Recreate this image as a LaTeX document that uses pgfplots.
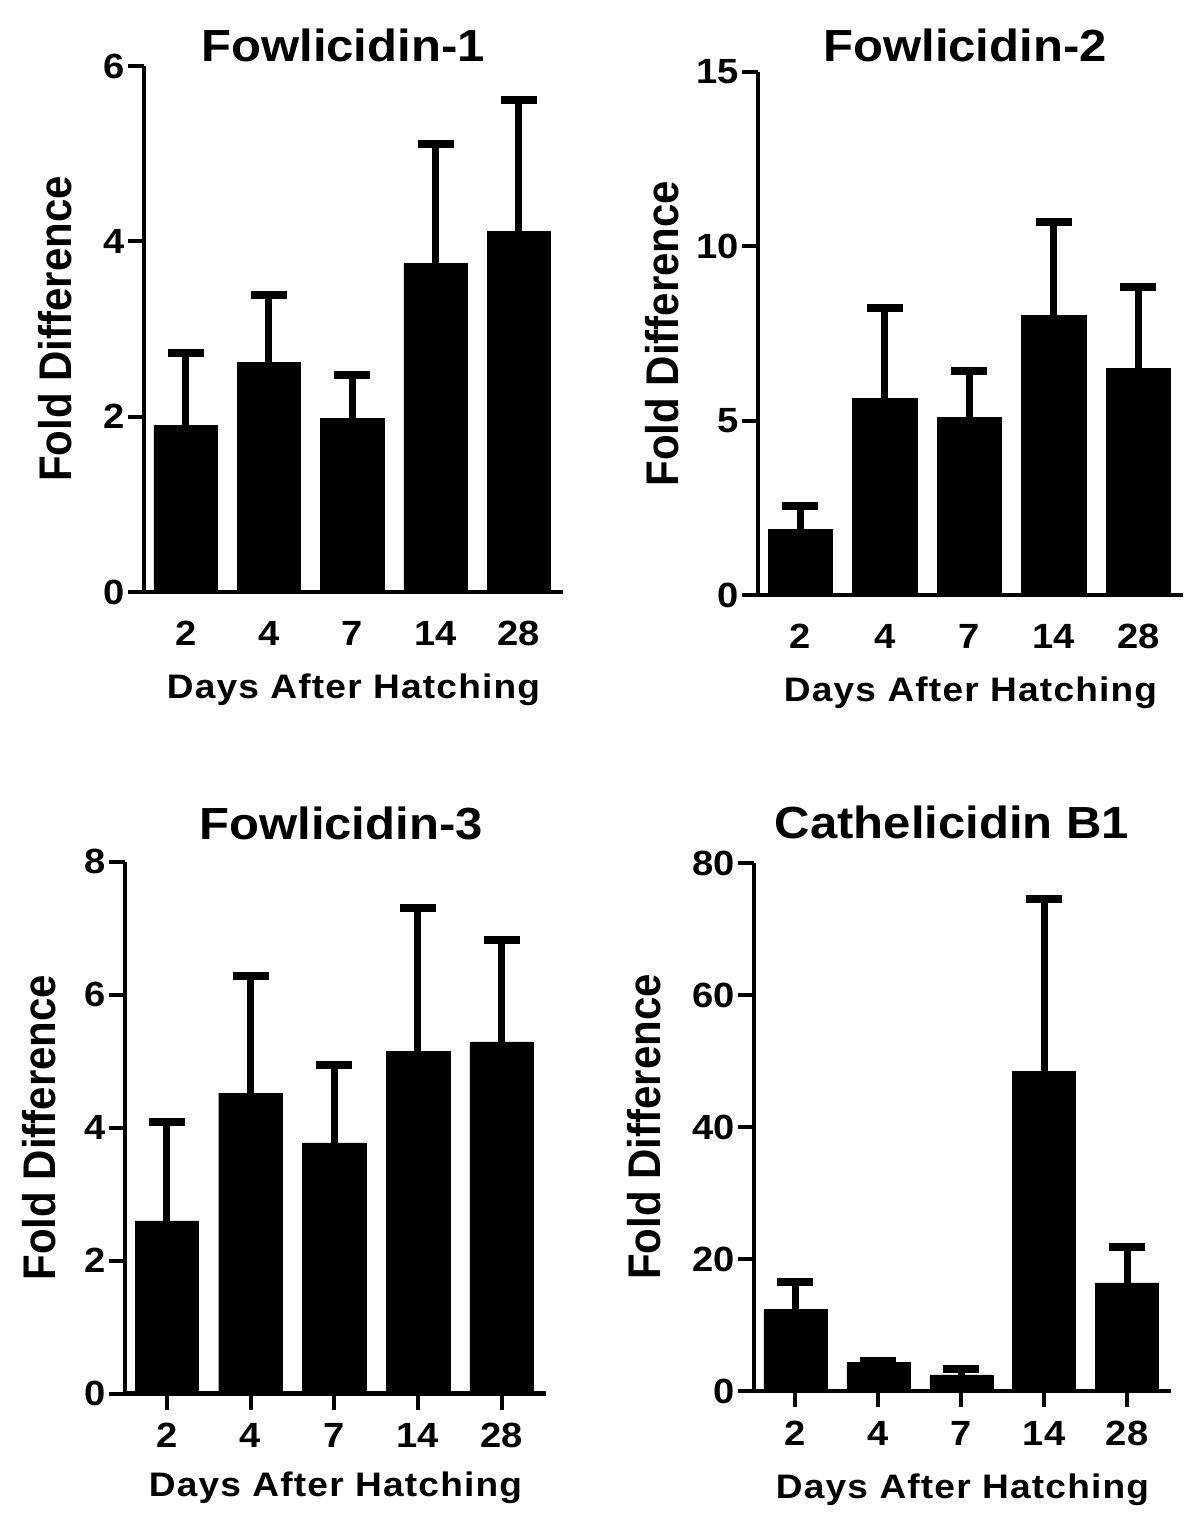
\documentclass[border=0pt]{standalone}
\usepackage{fontspec}
\setmainfont{Liberation Sans}[FakeStretch=1.09]
\newfontfamily\plainfont{Liberation Sans}
\usepackage{pgfplots}
\pgfplotsset{compat=1.18}
\newcommand\tickfont{\fontsize{17.5bp}{17.5bp}\selectfont\bfseries}
\newcommand\titlefont{\fontsize{22.5bp}{22.5bp}\selectfont\bfseries}
\newcommand\ylabfont{\plainfont\fontsize{21bp}{21bp}\selectfont\bfseries}
\newcommand\xlabfont{\fontsize{17bp}{17bp}\selectfont\bfseries\addfontfeatures{LetterSpace=3.5}}
\pgfplotsset{
  every axis title shift=0pt,
  panel/.style={
    scale only axis,
    axis x line*=bottom, axis y line*=left,
    axis line style={line width=2.25bp, black},
    ybar, bar width=0.76, bar shift=0pt,
    xmin=-0.5, xmax=4.53, ymin=0,
    xtick={0,1,2,3,4}, xticklabels={2,4,7,14,28},
    tick align=outside, major tick length=8bp,
    every tick/.style={line width=2bp, black},
    tick label style={font=\tickfont},
    /pgf/number format/assume math mode=true,
    yticklabel style={inner sep=1.5bp},
    xticklabel style={anchor=base, inner sep=0pt, yshift=-19bp},
    xlabel={Days After Hatching}, ylabel={Fold Difference},
    xlabel style={font=\xlabfont, anchor=base},
    ylabel style={font=\ylabfont, anchor=center, yscale=1.09},
    title style={font=\titlefont, anchor=base},
  },
  bars/.style={fill=black, draw=black, line width=0.2bp,
    error bars/.cd, y dir=plus, y explicit,
    error bar style={line width=3.5bp, black, solid},
    error mark options={rotate=90, mark size=9bp, line width=4bp, black, solid}},
}
\begin{document}
\begin{tikzpicture}
\path[use as bounding box] (0,0) rectangle (600bp,759.5bp);
% Panel 1
\begin{axis}[panel, at={(72bp,463.5bp)}, anchor=south west,
  width=209.5bp, height=263bp, ymax=6, ytick={0,2,4,6},
  major x tick style=transparent,
  title={Fowlicidin-1}, title style={at={(0.475,1)}, yshift=2bp},
  ylabel style={at={(axis description cs:-0.212,0.5)}},
  xlabel style={at={(axis description cs:0.5,-0.2034)}}]
\addplot[bars] coordinates {(0,1.90) +- (0,0.83) (1,2.62) +- (0,0.77) (2,1.98) +- (0,0.49) (3,3.75) +- (0,1.36) (4,4.11) +- (0,1.50)};
\end{axis}
% Panel 2
\begin{axis}[panel, at={(379bp,462bp)}, anchor=south west,
  width=212.5bp, height=261.5bp, ymax=15, ytick={0,5,10,15},
  major x tick style=transparent,
  title={Fowlicidin-2}, title style={at={(0.487,1)}, yshift=5bp},
  ylabel style={at={(axis description cs:-0.226,0.5)}},
  xlabel style={at={(axis description cs:0.5,-0.2027)}}]
\addplot[bars] coordinates {(0,1.88) +- (0,0.67) (1,5.64) +- (0,2.58) (2,5.09) +- (0,1.34) (3,8.03) +- (0,2.67) (4,6.51) +- (0,2.31)};
\end{axis}
% Panel 3
\begin{axis}[panel, at={(62.5bp,62.65bp)}, anchor=south west,
  width=210.5bp, height=266bp, ymax=8, ytick={0,2,4,6,8},
  title={Fowlicidin-3}, title style={at={(0.513,1)}, yshift=11bp},
  ylabel style={at={(axis description cs:-0.203,0.5)}},
  xlabel style={at={(axis description cs:0.5,-0.193)}}]
\addplot[bars] coordinates {(0,2.60) +- (0,1.48) (1,4.52) +- (0,1.76) (2,3.77) +- (0,1.18) (3,5.15) +- (0,2.16) (4,5.29) +- (0,1.53)};
\end{axis}
% Panel 4
\begin{axis}[panel, at={(377bp,64bp)}, anchor=south west,
  width=208.5bp, height=264bp, ymax=80, ytick={0,20,40,60,80},
  title={Cathelicidin B1}, title style={at={(0.475,1)}, yshift=12.5bp},
  ylabel style={at={(axis description cs:-0.264,0.5)}},
  xlabel style={at={(axis description cs:0.5,-0.2045)}}]
\addplot[bars] coordinates {(0,12.35) +- (0,4.15) (1,4.3) +- (0,0.2) (2,2.44) +- (0,0.96) (3,48.4) +- (0,26.1) (4,16.4) +- (0,5.4)};
\end{axis}
\end{tikzpicture}
\end{document}
